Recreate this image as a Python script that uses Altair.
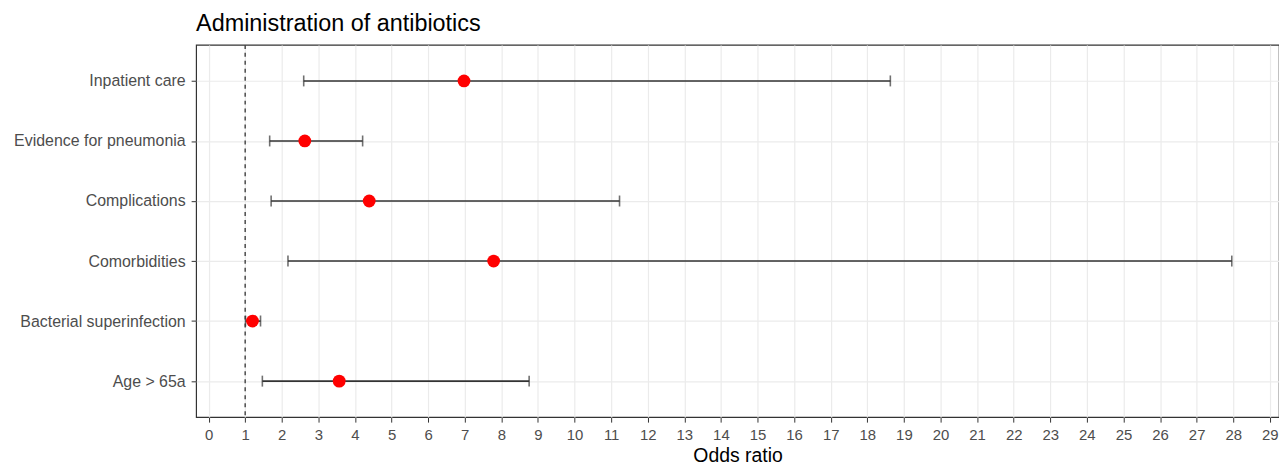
import altair as alt
import pandas as pd

categories = ["Inpatient care", "Evidence for pneumonia", "Complications",
              "Comorbidities", "Bacterial superinfection", "Age > 65a"]
odds_ratio = [6.98, 2.63, 4.39, 7.79, 1.20, 3.57]
ci_lower = [2.60, 1.67, 1.71, 2.17, 1.01, 1.47]
ci_upper = [18.63, 4.21, 11.23, 27.96, 1.42, 8.76]
x_ticks = list(range(0, 30))
reference_line = [1]

df = pd.DataFrame({"cat": categories, "or": odds_ratio, "lo": ci_lower, "hi": ci_upper})
ref = pd.DataFrame({"x": reference_line})

FONT = "Liberation Sans"

xscale = alt.Scale(domain=[-0.34, 29.25], nice=False, zero=False)
yscale = alt.Scale(type="point", padding=0.6, domain=categories)

xaxis = alt.Axis(values=x_ticks, title="Odds ratio", labelFontSize=15, labelColor="#4D4D4D",
                 labelFont=FONT, tickColor="#333333", tickSize=5, labelPadding=5,
                 titleFontSize=19.5, titleFont=FONT, titleColor="black", titleFontWeight="normal",
                 titlePadding=5, domain=False, gridColor="#EBEBEB", gridWidth=1.2,
                 labelFlush=False, labelOverlap=False, tickCount=30)
yaxis = alt.Axis(title=None, labelFontSize=16, labelColor="#4D4D4D", labelFont=FONT,
                 tickColor="#333333", tickSize=5, labelPadding=6, domain=False,
                 grid=True, gridColor="#EBEBEB", gridWidth=1.2)

X = lambda f: alt.X(f, scale=xscale, axis=xaxis, title="Odds ratio")
Y = alt.Y("cat:N", scale=yscale, axis=yaxis, sort=categories)

base = alt.Chart(df)

vline = alt.Chart(ref).mark_rule(color="#333333", strokeWidth=1.3, strokeDash=[4, 4]).encode(
    x=X("x:Q")
)
rule = base.mark_rule(color="#333333", strokeWidth=1.6).encode(
    x=X("lo:Q"), x2="hi:Q", y=Y,
)
cap_lo = base.mark_tick(color="#333333", thickness=1.6, size=11, orient="vertical").encode(
    x=X("lo:Q"), y=Y,
)
cap_hi = base.mark_tick(color="#333333", thickness=1.6, size=11, orient="vertical").encode(
    x=X("hi:Q"), y=Y,
)
points = base.mark_circle(color="#FF0000", size=165, opacity=1).encode(
    x=X("or:Q"), y=Y,
)

chart = alt.layer(vline, rule, cap_lo, cap_hi, points).properties(
    width=1088,
    height=374,
    background="white",
    autosize=alt.AutoSizeParams(type="none"),
    padding={"left": 189, "top": 36, "right": 0, "bottom": 48},
    title=alt.TitleParams("Administration of antibiotics", anchor="start", frame="group",
                          fontSize=23.5, fontWeight="normal", color="black", font=FONT,
                          offset=9),
).configure_view(stroke="#333333", strokeWidth=1.2)

chart.save("out.html", embed_options={"renderer": "svg", "actions": False})
